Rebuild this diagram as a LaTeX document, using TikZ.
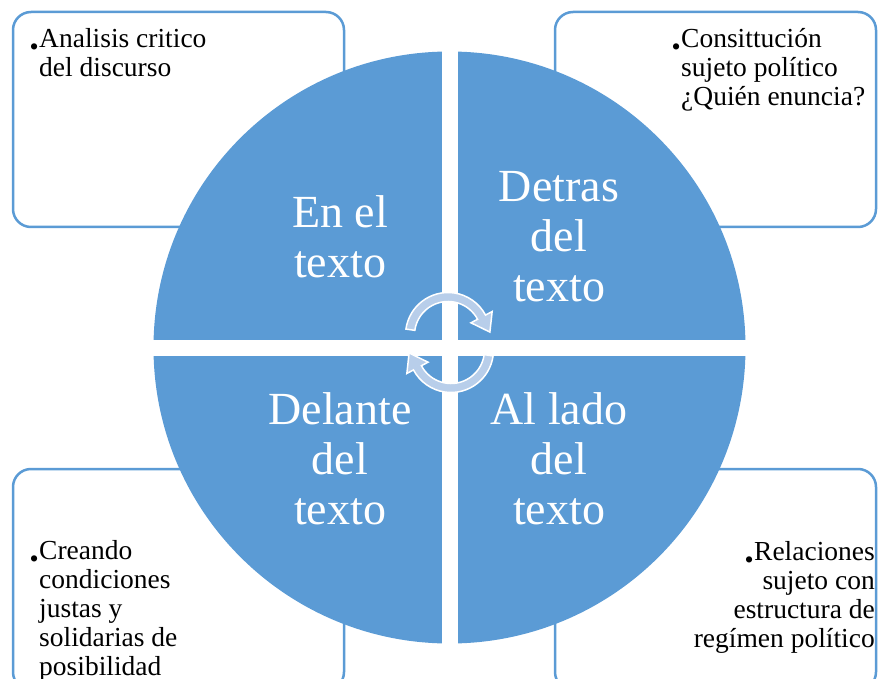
\documentclass[tikz,border=0pt]{standalone}
\usepackage{fontspec}
\setmainfont{Liberation Serif}
\definecolor{accent}{HTML}{5B9BD5}
\definecolor{turnfill}{RGB}{184,206,234}
\newcommand{\dotmark}{\raisebox{-8pt}{\fontsize{26}{26}\selectfont\textbullet}}

\begin{document}
\begin{tikzpicture}[x=1pt, y=-1pt]
	\tikzstyle{panel} = [draw=accent, line width=2.5pt, rounded corners=18pt];
	\tikzstyle{wedge} = [fill=accent];
	\tikzstyle{turn} = [fill=turnfill, draw=white, line width=1.5pt];
	\tikzstyle{note} = [inner sep=0pt, font={\fontsize{27.5}{29}\selectfont}];
	\tikzstyle{big} = [inner sep=0pt, align=center, text=white, font={\fontsize{46}{50}\selectfont}];

	\path[use as bounding box, clip] (0,0) rectangle (878,679);

	\draw[panel] (13,12) rectangle (344,227);
	\draw[panel] (555,12) rectangle (876,227);
	\draw[panel] (13,469) rectangle (344,690);
	\draw[panel] (555,469) rectangle (876,690);

	\node[note, anchor=north west, align=left] (critico) at (39,28.5) {\llap{\dotmark\hspace{0.5pt}}Analisis critico\\del discurso};
	\node[note, anchor=north west, align=left] (sujeto) at (681,28.5) {\llap{\dotmark\hspace{0.5pt}}Consittución\\sujeto político\\¿Quién enuncia?};
	\node[note, anchor=north west, align=left] (creando) at (39,540) {\llap{\dotmark\hspace{0.5pt}}Creando\\condiciones\\justas y\\solidarias de\\posibilidad};
	\node[note, anchor=north east, align=right] (relaciones) at (875,541.5) {\dotmark\hspace{0.5pt}Relaciones\\sujeto con\\estructura de\\regímen político};

	\begin{scope}
		\clip (449.5,347.5) circle[radius=296];
		\foreach \xa/\ya/\xb/\yb in {140/40/441.5/339.5, 457.5/40/760/339.5, 140/355.5/441.5/660, 457.5/355.5/760/660}
			\fill[wedge] (\xa,\ya) rectangle (\xb,\yb);
	\end{scope}

	\def \quads {340/237/entexto/{En el\\texto}, 559/237/detras/{Detras\\del\\texto}, 340/458.5/delante/{Delante\\del\\texto}, 559/458.5/allado/{Al lado\\del\\texto}}

	\foreach \px/\py/\name/\txt in \quads {
		\node[big] (\name) at (\px,\py) {\txt};
	}

	\foreach \cx/\cy/\rot in {448/335/0, 451/350/180} {
		\begin{scope}[shift={(\cx,\cy)}, rotate=\rot]
			\fill[turn] (188:42.5) arc[start angle=188, end angle=332, radius=42.5]
				-- (332:50) -- (356:42) -- (332:26) -- (332:33.5)
				arc[start angle=332, end angle=188, radius=33.5] -- cycle;
		\end{scope}
	}

\end{tikzpicture}
\end{document}
